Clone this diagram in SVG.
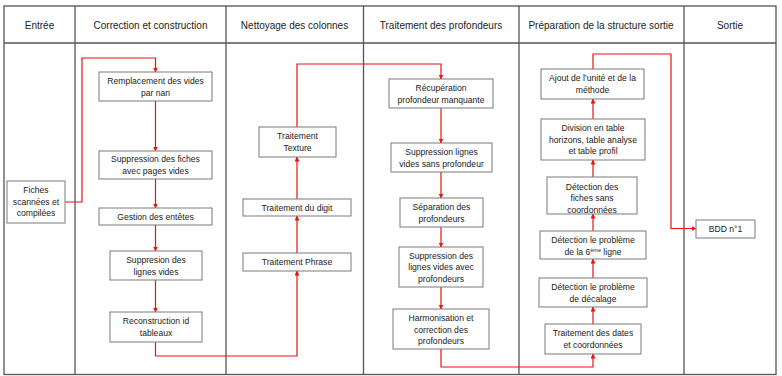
<svg xmlns="http://www.w3.org/2000/svg" width="782" height="376" viewBox="0 0 782 376">
<style>
.grid{stroke:#555;stroke-width:1.3;fill:none}
.hd{font-family:"Liberation Sans",Arial,sans-serif;font-size:10px;fill:#222;text-anchor:middle}
.box{fill:#fff;stroke:#7a7a7a;stroke-width:1}
.t{font-family:"Liberation Sans",Arial,sans-serif;font-size:8.6px;fill:#222;text-anchor:middle}
.c{fill:none;stroke:#f01010;stroke-width:1.2}
</style>
<defs>
<marker id="ah" markerWidth="5" markerHeight="5" refX="4.5" refY="2.5" orient="auto" markerUnits="userSpaceOnUse">
<path d="M0,0 L5,2.5 L0,5 z" fill="#f01010"/>
</marker>
</defs>
<rect width="782" height="376" fill="#fff"/>
<g id="table">
<rect class="grid" x="4" y="6" width="772" height="368.5"/>
<line class="grid" x1="4" y1="43" x2="776" y2="43"/>
<line class="grid" x1="75" y1="6" x2="75" y2="374.5"/>
<line class="grid" x1="226" y1="6" x2="226" y2="374.5"/>
<line class="grid" x1="363.5" y1="6" x2="363.5" y2="374.5"/>
<line class="grid" x1="519" y1="6" x2="519" y2="374.5"/>
<line class="grid" x1="684" y1="6" x2="684" y2="374.5"/>
<text class="hd" x="39.5" y="28.5">Entrée</text>
<text class="hd" x="150.5" y="28.5">Correction et construction</text>
<text class="hd" x="294.5" y="28.5">Nettoyage des colonnes</text>
<text class="hd" x="441" y="28.5">Traitement des profondeurs</text>
<text class="hd" x="601" y="28.5">Préparation de la structure sortie</text>
<text class="hd" x="730" y="28.5">Sortie</text>
</g>
<g id="connectors">
<path class="c" marker-end="url(#ah)" d="M65,202 H82 V58 H155.5 V72"/>
<path class="c" marker-end="url(#ah)" d="M155.5,101 V151"/>
<path class="c" marker-end="url(#ah)" d="M155.5,179 V208"/>
<path class="c" marker-end="url(#ah)" d="M155.5,225 V251"/>
<path class="c" marker-end="url(#ah)" d="M155.5,280 V312"/>
<path class="c" marker-end="url(#ah)" d="M155.5,342 V356 H297 V271"/>
<path class="c" marker-end="url(#ah)" d="M297,253 V216"/>
<path class="c" marker-end="url(#ah)" d="M297,199 V157"/>
<path class="c" marker-end="url(#ah)" d="M297,127 V64 H441 V79"/>
<path class="c" marker-end="url(#ah)" d="M441,108 V143"/>
<path class="c" marker-end="url(#ah)" d="M441,172 V198"/>
<path class="c" marker-end="url(#ah)" d="M441,227 V247"/>
<path class="c" marker-end="url(#ah)" d="M441,287 V309"/>
<path class="c" marker-end="url(#ah)" d="M441,349 V367 H593 V354"/>
<path class="c" marker-end="url(#ah)" d="M593,324 V307"/>
<path class="c" marker-end="url(#ah)" d="M593,278 V259"/>
<path class="c" marker-end="url(#ah)" d="M593,231 V214"/>
<path class="c" marker-end="url(#ah)" d="M593,177 V160"/>
<path class="c" marker-end="url(#ah)" d="M593,119 V99"/>
<path class="c" marker-end="url(#ah)" d="M593,69 V54 H671 V228.5 H696"/>
</g>
<g id="n-fiches"><rect class="box" x="7" y="181" width="58" height="42"/>
<text class="t" x="36"><tspan x="36" y="193">Fiches</tspan><tspan x="36" y="205">scannées et</tspan><tspan x="36" y="216">compilées</tspan></text></g>
<g id="n-remplacement"><rect class="box" x="99" y="72" width="113" height="29"/>
<text class="t"><tspan x="155.5" y="84">Remplacement des vides</tspan><tspan x="155.5" y="95.5">par nan</tspan></text></g>
<g id="n-suppfiches"><rect class="box" x="99" y="151" width="113" height="28"/>
<text class="t"><tspan x="155.5" y="162">Suppression des fiches</tspan><tspan x="155.5" y="174">avec pages vides</tspan></text></g>
<g id="n-gestion"><rect class="box" x="99" y="208" width="113" height="17"/>
<text class="t"><tspan x="155.5" y="220">Gestion des entêtes</tspan></text></g>
<g id="n-supplignes"><rect class="box" x="110" y="251" width="92" height="29"/>
<text class="t"><tspan x="156" y="263">Suppresion des</tspan><tspan x="156" y="274.5">lignes vides</tspan></text></g>
<g id="n-reconstruction"><rect class="box" x="110" y="312" width="92" height="30"/>
<text class="t"><tspan x="156" y="324">Reconstruction id</tspan><tspan x="156" y="336">tableaux</tspan></text></g>
<g id="n-texture"><rect class="box" x="259" y="127" width="77" height="30"/>
<text class="t"><tspan x="297.5" y="139">Traitement</tspan><tspan x="297.5" y="150.5">Texture</tspan></text></g>
<g id="n-digit"><rect class="box" x="243" y="199" width="108" height="17"/>
<text class="t"><tspan x="297" y="211">Traitement du digit</tspan></text></g>
<g id="n-phrase"><rect class="box" x="243" y="253" width="108" height="18"/>
<text class="t"><tspan x="297" y="265">Traitement Phrase</tspan></text></g>
<g id="n-recuperation"><rect class="box" x="389" y="79" width="104" height="29"/>
<text class="t"><tspan x="441" y="91">Récupération</tspan><tspan x="441" y="102.5">profondeur manquante</tspan></text></g>
<g id="n-suppsans"><rect class="box" x="391" y="143" width="101" height="29"/>
<text class="t"><tspan x="441.5" y="155">Suppression lignes</tspan><tspan x="441.5" y="166.5">vides sans profondeur</tspan></text></g>
<g id="n-separation"><rect class="box" x="400" y="198" width="83" height="29"/>
<text class="t"><tspan x="441.5" y="210">Séparation des</tspan><tspan x="441.5" y="222">profondeurs</tspan></text></g>
<g id="n-suppavec"><rect class="box" x="399" y="247" width="84" height="40"/>
<text class="t"><tspan x="441" y="258.5">Suppression des</tspan><tspan x="441" y="270">lignes vides avec</tspan><tspan x="441" y="281.5">profondeurs</tspan></text></g>
<g id="n-harmonisation"><rect class="box" x="393" y="309" width="96" height="40"/>
<text class="t"><tspan x="441" y="321">Harmonisation et</tspan><tspan x="441" y="332.5">correction des</tspan><tspan x="441" y="344">profondeurs</tspan></text></g>
<g id="n-ajout"><rect class="box" x="541" y="69" width="103" height="30"/>
<text class="t"><tspan x="592.5" y="81">Ajout de l’unité et de la</tspan><tspan x="592.5" y="92.5">méthode</tspan></text></g>
<g id="n-division"><rect class="box" x="541" y="119" width="104" height="41"/>
<text class="t"><tspan x="593" y="131">Division en table</tspan><tspan x="593" y="142.5">horizons, table analyse</tspan><tspan x="593" y="154">et table profil</tspan></text></g>
<g id="n-detfiches"><rect class="box" x="547" y="177" width="90" height="37"/>
<text class="t"><tspan x="592" y="189.5">Détection des</tspan><tspan x="592" y="201">fiches sans</tspan><tspan x="592" y="212.5">coordonnées</tspan></text></g>
<g id="n-det6"><rect class="box" x="540" y="231" width="106" height="28"/>
<text class="t"><tspan x="593" y="243">Détection le problème</tspan><tspan x="593" y="254.5">de la 6<tspan font-size="5.5" dy="-3">ème</tspan><tspan dy="3"> ligne</tspan></tspan></text></g>
<g id="n-decalage"><rect class="box" x="539" y="278" width="108" height="29"/>
<text class="t"><tspan x="593" y="290">Détection le problème</tspan><tspan x="593" y="301.5">de décalage</tspan></text></g>
<g id="n-dates"><rect class="box" x="545" y="324" width="96" height="30"/>
<text class="t"><tspan x="593" y="336">Traitement des dates</tspan><tspan x="593" y="347.5">et coordonnées</tspan></text></g>
<g id="n-bdd"><rect class="box" x="696" y="220" width="59" height="18"/>
<text class="t"><tspan x="725.5" y="232">BDD n°1</tspan></text></g>
</svg>
